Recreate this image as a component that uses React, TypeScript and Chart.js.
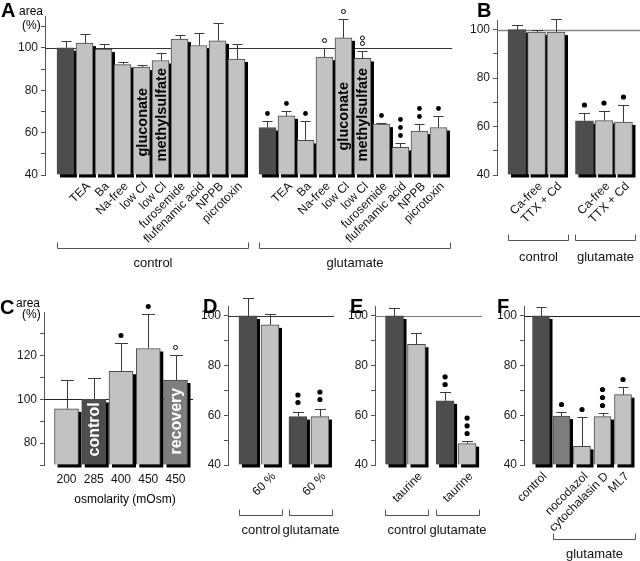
import React, { useEffect, useRef } from 'react';
import { Chart, registerables } from 'chart.js';
Chart.register(...registerables);

const W = 640;
const H = 561;
const YW = 32;
const FONT = "'Liberation Sans', Arial, Helvetica, sans-serif";
const SHADE: Record<string, string> = { d: '#4d4d4d', l: '#c2c2c2', m: '#7e7e7e' };

// ---------- Panel A ----------
const aCats = ['', 'TEA', 'Ba', 'Na-free', 'low Cl', 'low Cl', 'furosemide', 'flufenamic acid', 'NPPB', 'picrotoxin'];
const aInBar = ['', '', '', '', 'gluconate', 'methylsulfate', '', '', '', ''];
const aControl = [100, 102.2, 99.4, 92.1, 90.9, 94, 104.1, 101.1, 103.3, 94.7];
const aControlErr = [3, 4.3, 2.3, 1.3, 0.8, 3.5, 1.9, 5.8, 8.3, 7];
const aControlSig = [0, 0, 0, 0, 0, 0, 0, 0, 0, 0];
const aGlut = [62.4, 67.9, 56.3, 95.6, 104.7, 95, 64, 53, 60.7, 62.4];
const aGlutErr = [3.3, 2.2, 9.1, 4.3, 8.8, 3.6, 0.3, 2, 3.3, 5.3];
const aGlutSig = [1, 1, 1, -1, -1, -2, 1, 3, 2, 1]; // + filled dots, - open circles
const aYTicks = [40, 50, 60, 70, 80, 90, 100, 110];
const aYLabels = [40, 60, 80, 100];

// ---------- Panel B ----------
const bCats = ['', 'Ca-free', 'TTX + Cd'];
const bControl = [100, 99, 99];
const bControlErr = [1.9, 0.7, 5.4];
const bControlSig = [0, 0, 0];
const bGlut = [62.4, 62.5, 61.9];
const bGlutErr = [3.2, 3.9, 7.1];
const bGlutSig = [1, 1, 1];
const bYTicks = [40, 50, 60, 70, 80, 90, 100];
const bYLabels = [40, 60, 80, 100];

// ---------- Panel C ----------
const cCats = ['200', '285', '400', '450', '450'];
const cInBar = ['', 'control', '', '', 'recovery'];
const cValues = [95.7, 100, 112.9, 123.3, 108.9];
const cErr = [13.4, 9.9, 12.8, 15.9, 11.6];
const cSig = [0, 0, 1, 1, -1];
const cYTicks = [70, 80, 90, 100, 110, 120, 130];
const cYLabels = [80, 100, 120];

// ---------- Panel D ----------
const dCats = ['', '60 %'];
const dControl = [100, 96.4];
const dControlErr = [7.1, 4.4];
const dControlSig = [0, 0];
const dGlut = [59.5, 59.5];
const dGlutErr = [2, 3];
const dGlutSig = [2, 2];

// ---------- Panel E ----------
const eCats = ['', 'taurine'];
const eControl = [100, 88.6];
const eControlErr = [3.1, 4.7];
const eControlSig = [0, 0];
const eGlut = [65.8, 48.6];
const eGlutErr = [3.5, 1.2];
const eGlutSig = [2, 3];

// ---------- Panel F ----------
const fCats = ['control', '', 'nocodazol', 'cytochalasin D', 'ML7'];
const fValues = [100, 59.7, 47.5, 59.5, 68.3];
const fErr = [3.5, 1.8, 12, 1.3, 2.9];
const fSig = [0, 1, 1, 3, 1];

const dYTicks = [40, 50, 60, 70, 80, 90, 100];
const dYLabels = [40, 60, 80, 100];

interface Group {
  offset: number;
  values: number[];
  errs: number[];
  sig: number[];
  cats: string[];
  shades: string[];
  inBar?: string[];
  inBarInset?: number[];
}
interface Bracket { from: number; to: number; text: string; y: number; textY: number; }
interface Letter { text: string; x: number; y: number; font: string; base?: CanvasTextBaseline; }
interface Panel {
  key: string;
  area: { left: number; right: number; top: number; bottom: number };
  yMin: number; yMax: number; yTicks: number[]; yLabels: number[];
  xMin: number; xMax: number;
  groups: Group[];
  barW: number; capW: number; shadow: number;
  refColor: string; refWidth: number;
  catStyle: 'rot' | 'flat'; catY?: number;
  inBarFont?: string; inBarColor?: string;
  brackets: Bracket[];
  letters: Letter[];
  dotGap: number; dotStep: number; dotR: number;
}

const LET = `bold 20px ${FONT}`;
const SMALL = `12px ${FONT}`;
const SHADES_A = ['d', 'l', 'l', 'l', 'l', 'l', 'l', 'l', 'l', 'l'];

const panels: Panel[] = [
  {
    key: 'A',
    area: { left: 45, right: 452, top: 16, bottom: 175 },
    yMin: 40, yMax: 115, yTicks: aYTicks, yLabels: aYLabels,
    xMin: -1.079, xMax: 20.342,
    groups: [
      { offset: 0, values: aControl, errs: aControlErr, sig: aControlSig, cats: aCats, inBar: aInBar, shades: SHADES_A, inBarInset: [0, 0, 0, 0, 18, 13, 0, 0, 0, 0] },
      { offset: 10.63, values: aGlut, errs: aGlutErr, sig: aGlutSig, cats: aCats, inBar: aInBar, shades: SHADES_A, inBarInset: [0, 0, 0, 0, 24, 13, 0, 0, 0, 0] },
    ],
    barW: 17, capW: 10, shadow: 3,
    refColor: '#333', refWidth: 1,
    catStyle: 'rot',
    inBarFont: `bold 14.5px ${FONT}`, inBarColor: '#000',
    brackets: [
      { from: 0, to: 9, text: 'control', y: 248, textY: 263 },
      { from: 10, to: 19, text: 'glutamate', y: 248, textY: 263 },
    ],
    letters: [
      { text: 'A', x: 1, y: 1, font: LET, base: 'top' },
      { text: 'area', x: 19, y: 15, font: SMALL },
      { text: '(%)', x: 22, y: 29, font: SMALL },
    ],
    dotGap: 8, dotStep: 8, dotR: 2.4,
  },
  {
    key: 'B',
    area: { left: 497, right: 640, top: 20, bottom: 175 },
    yMin: 40, yMax: 104, yTicks: bYTicks, yLabels: bYLabels,
    xMin: -1.026, xMax: 6.308,
    groups: [
      { offset: 0, values: bControl, errs: bControlErr, sig: bControlSig, cats: bCats, shades: ['d', 'l', 'l'] },
      { offset: 3.46, values: bGlut, errs: bGlutErr, sig: bGlutSig, cats: bCats, shades: ['d', 'l', 'l'] },
    ],
    barW: 18, capW: 11, shadow: 3,
    refColor: '#888', refWidth: 1.5,
    catStyle: 'rot',
    brackets: [
      { from: 0, to: 2, text: 'control', y: 240, textY: 257 },
      { from: 3, to: 5, text: 'glutamate', y: 240, textY: 257 },
    ],
    letters: [{ text: 'B', x: 477, y: 1, font: LET, base: 'top' }],
    dotGap: 8.5, dotStep: 8, dotR: 2.6,
  },
  {
    key: 'C',
    area: { left: 44, right: 193, top: 312, bottom: 465 },
    yMin: 70, yMax: 140, yTicks: cYTicks, yLabels: cYLabels,
    xMin: -0.826, xMax: 4.642,
    groups: [
      { offset: 0, values: cValues, errs: cErr, sig: cSig, cats: cCats, inBar: cInBar, shades: ['l', 'd', 'l', 'l', 'm'], inBarInset: [0, 8, 0, 0, 10] },
    ],
    barW: 24, capW: 13, shadow: 3,
    refColor: '#222', refWidth: 1,
    catStyle: 'flat', catY: 480,
    inBarFont: `bold 16px ${FONT}`, inBarColor: '#fff',
    brackets: [],
    letters: [
      { text: 'C', x: 0, y: 298, font: LET, base: 'top' },
      { text: 'area', x: 16, y: 307, font: SMALL },
      { text: '(%)', x: 22, y: 318, font: SMALL },
      { text: 'osmolarity (mOsm)', x: 125, y: 503, font: SMALL },
    ],
    dotGap: 8, dotStep: 8, dotR: 2.5,
  },
  {
    key: 'D',
    area: { left: 228, right: 334, top: 306, bottom: 465 },
    yMin: 40, yMax: 104, yTicks: dYTicks, yLabels: dYLabels,
    xMin: -0.909, xMax: 3.909,
    groups: [
      { offset: 0, values: dControl, errs: dControlErr, sig: dControlSig, cats: dCats, shades: ['d', 'l'] },
      { offset: 2.27, values: dGlut, errs: dGlutErr, sig: dGlutSig, cats: dCats, shades: ['d', 'l'] },
    ],
    barW: 18, capW: 11, shadow: 3,
    refColor: '#333', refWidth: 1,
    catStyle: 'rot',
    brackets: [
      { from: 0, to: 1, text: 'control', y: 515, textY: 530 },
      { from: 2, to: 3, text: 'glutamate', y: 515, textY: 530 },
    ],
    letters: [{ text: 'D', x: 203, y: 297, font: LET, base: 'top' }],
    dotGap: 10, dotStep: 7.5, dotR: 2.6,
  },
  {
    key: 'E',
    area: { left: 375, right: 482, top: 306, bottom: 465 },
    yMin: 40, yMax: 104, yTicks: dYTicks, yLabels: dYLabels,
    xMin: -0.886, xMax: 3.977,
    groups: [
      { offset: 0, values: eControl, errs: eControlErr, sig: eControlSig, cats: eCats, shades: ['d', 'l'] },
      { offset: 2.3, values: eGlut, errs: eGlutErr, sig: eGlutSig, cats: eCats, shades: ['d', 'l'] },
    ],
    barW: 18, capW: 11, shadow: 3,
    refColor: '#777', refWidth: 1,
    catStyle: 'rot',
    brackets: [
      { from: 0, to: 1, text: 'control', y: 515, textY: 530 },
      { from: 2, to: 3, text: 'glutamate', y: 515, textY: 530 },
    ],
    letters: [{ text: 'E', x: 350, y: 297, font: LET, base: 'top' }],
    dotGap: 8, dotStep: 7.7, dotR: 2.6,
  },
  {
    key: 'F',
    area: { left: 524, right: 640, top: 306, bottom: 465 },
    yMin: 40, yMax: 104, yTicks: dYTicks, yLabels: dYLabels,
    xMin: -0.829, xMax: 4.829,
    groups: [
      { offset: 0, values: fValues, errs: fErr, sig: fSig, cats: fCats, shades: ['d', 'm', 'l', 'l', 'l'] },
    ],
    barW: 17, capW: 10, shadow: 3,
    refColor: '#222', refWidth: 1,
    catStyle: 'rot',
    brackets: [{ from: 1, to: 4, text: 'glutamate', y: 539, textY: 554 }],
    letters: [{ text: 'F', x: 497, y: 297, font: LET, base: 'top' }],
    dotGap: 8, dotStep: 8, dotR: 2.6,
  },
];

interface FlatBar { x: number; y: number; err: number; sig: number; shade: string; cat: string; inBar: string; inset: number; }

function flatten(p: Panel): FlatBar[] {
  const out: FlatBar[] = [];
  p.groups.forEach((g) => {
    g.values.forEach((v, i) => {
      out.push({
        x: g.offset + i,
        y: v,
        err: g.errs[i],
        sig: g.sig[i],
        shade: g.shades[i],
        cat: g.cats[i],
        inBar: g.inBar ? g.inBar[i] : '',
        inset: g.inBarInset ? g.inBarInset[i] : 10,
      });
    });
  });
  return out;
}

function deco(p: Panel, bars: FlatBar[]) {
  const props = (el: any) => el.getProps(['x', 'y', 'base', 'width'], true);
  return {
    id: 'deco' + p.key,
    beforeDatasetsDraw(chart: any) {
      const ctx: CanvasRenderingContext2D = chart.ctx;
      const ys = chart.scales.y;
      const a = chart.chartArea;
      ctx.save();
      ctx.strokeStyle = p.refColor;
      ctx.lineWidth = p.refWidth;
      const ry = Math.round(ys.getPixelForValue(100)) + 0.5;
      ctx.beginPath();
      ctx.moveTo(a.left, ry);
      ctx.lineTo(a.right, ry);
      ctx.stroke();
      ctx.fillStyle = '#000';
      chart.getDatasetMeta(0).data.forEach((el: any) => {
        const { x, y, base, width } = props(el);
        ctx.fillRect(x - width / 2 + p.shadow, y + p.shadow, width, base - y);
      });
      ctx.restore();
    },
    afterDatasetsDraw(chart: any) {
      const ctx: CanvasRenderingContext2D = chart.ctx;
      const ys = chart.scales.y;
      ctx.save();
      chart.getDatasetMeta(0).data.forEach((el: any, i: number) => {
        const b = bars[i];
        const { x, y, base } = props(el);
        const cx = Math.round(x) + 0.5;
        const capY = Math.round(ys.getPixelForValue(b.y + b.err)) + 0.5;
        ctx.strokeStyle = '#3a3a3a';
        ctx.lineWidth = 1;
        ctx.beginPath();
        ctx.moveTo(cx, y);
        ctx.lineTo(cx, capY);
        ctx.moveTo(cx - p.capW / 2, capY);
        ctx.lineTo(cx + p.capW / 2, capY);
        ctx.stroke();
        const n = Math.abs(b.sig);
        for (let k = 0; k < n; k++) {
          const cy = capY - p.dotGap - k * (b.sig > 0 ? p.dotStep : 5.5);
          ctx.beginPath();
          if (b.sig > 0) {
            ctx.fillStyle = '#000';
            ctx.arc(x, cy, p.dotR, 0, Math.PI * 2);
            ctx.fill();
          } else {
            ctx.strokeStyle = '#000';
            ctx.lineWidth = 1;
            ctx.arc(x, cy, 2, 0, Math.PI * 2);
            ctx.stroke();
          }
        }
        if (b.inBar) {
          ctx.save();
          ctx.translate(x, base - b.inset);
          ctx.rotate(-Math.PI / 2);
          ctx.font = p.inBarFont || `bold 14px ${FONT}`;
          ctx.fillStyle = p.inBarColor || '#000';
          ctx.textAlign = 'left';
          ctx.textBaseline = 'middle';
          ctx.fillText(b.inBar, 0, 1);
          ctx.restore();
        }
      });
      ctx.restore();
    },
    afterDraw(chart: any) {
      const ctx: CanvasRenderingContext2D = chart.ctx;
      const els = chart.getDatasetMeta(0).data;
      ctx.save();
      ctx.fillStyle = '#111';
      ctx.font = `12px ${FONT}`;
      els.forEach((el: any, i: number) => {
        const b = bars[i];
        if (!b.cat) return;
        const { x, base } = props(el);
        if (p.catStyle === 'rot') {
          ctx.save();
          ctx.translate(x + 4, base + 10);
          ctx.rotate(-Math.PI / 4);
          ctx.textAlign = 'right';
          ctx.textBaseline = 'middle';
          ctx.fillText(b.cat, 0, 0);
          ctx.restore();
        } else {
          ctx.textAlign = 'center';
          ctx.textBaseline = 'middle';
          ctx.fillText(b.cat, x, p.catY || base + 15);
        }
      });
      // brackets
      p.brackets.forEach((br) => {
        const e1 = props(els[br.from]);
        const e2 = props(els[br.to]);
        const x1 = Math.round(e1.x - e1.width / 2) + 0.5;
        const x2 = Math.round(e2.x + e2.width / 2 + p.shadow) + 0.5;
        const yy = br.y + 0.5;
        ctx.strokeStyle = '#555';
        ctx.lineWidth = 1;
        ctx.beginPath();
        ctx.moveTo(x1, yy - 6);
        ctx.lineTo(x1, yy);
        ctx.lineTo(x2, yy);
        ctx.lineTo(x2, yy - 6);
        ctx.stroke();
        ctx.font = `13px ${FONT}`;
        ctx.fillStyle = '#111';
        ctx.textAlign = 'center';
        ctx.textBaseline = 'middle';
        ctx.fillText(br.text, (x1 + x2) / 2, br.textY);
      });
      // letters and titles
      p.letters.forEach((l) => {
        ctx.font = l.font;
        ctx.fillStyle = '#000';
        ctx.textBaseline = l.base || 'alphabetic';
        ctx.textAlign = l.text.length > 4 ? 'center' : 'left';
        ctx.fillText(l.text, l.x, l.y);
      });
      ctx.restore();
    },
  };
}

function PanelChart({ p }: { p: Panel }) {
  const ref = useRef<HTMLCanvasElement>(null);
  useEffect(() => {
    const bars = flatten(p);
    const chart = new Chart(ref.current as HTMLCanvasElement, {
      type: 'bar',
      data: {
        datasets: [
          {
            data: bars.map((b) => ({ x: b.x, y: b.y })) as any,
            backgroundColor: bars.map((b) => SHADE[b.shade]),
            borderColor: '#4a4a4a',
            borderWidth: 1,
            barThickness: p.barW,
            base: p.yMin,
          },
        ],
      },
      options: {
        responsive: false,
        animation: false,
        events: [],
        layout: {
          padding: {
            left: p.area.left - YW,
            right: W - p.area.right,
            top: p.area.top,
            bottom: H - p.area.bottom,
          },
        },
        plugins: { legend: { display: false }, tooltip: { enabled: false } },
        scales: {
          x: { type: 'linear', display: false, min: p.xMin, max: p.xMax, offset: false },
          y: {
            type: 'linear',
            position: 'left',
            min: p.yMin,
            max: p.yMax,
            afterBuildTicks: (s: any) => {
              s.ticks = p.yTicks.map((v) => ({ value: v }));
            },
            afterFit: (s: any) => {
              s.width = YW;
            },
            ticks: {
              autoSkip: false,
              padding: 3,
              color: '#1a1a1a',
              font: { family: FONT, size: 12 },
              callback: (v: any) => (p.yLabels.includes(Number(v)) ? String(v) : ''),
            },
            grid: { drawOnChartArea: false, drawTicks: true, tickLength: 4, color: '#555' },
            border: { display: true, color: '#555', width: 1 },
          },
        },
      },
      plugins: [deco(p, bars)],
    } as any);
    return () => chart.destroy();
  }, []);
  return (
    <canvas
      ref={ref}
      width={W}
      height={H}
      style={{ position: 'absolute', left: 0, top: 0, width: W, height: H }}
    />
  );
}

export default function App() {
  return (
    <div style={{ position: 'absolute', left: 0, top: 0, width: W, height: H, background: '#fff', overflow: 'hidden' }}>
      {panels.map((p) => (
        <PanelChart key={p.key} p={p} />
      ))}
    </div>
  );
}
